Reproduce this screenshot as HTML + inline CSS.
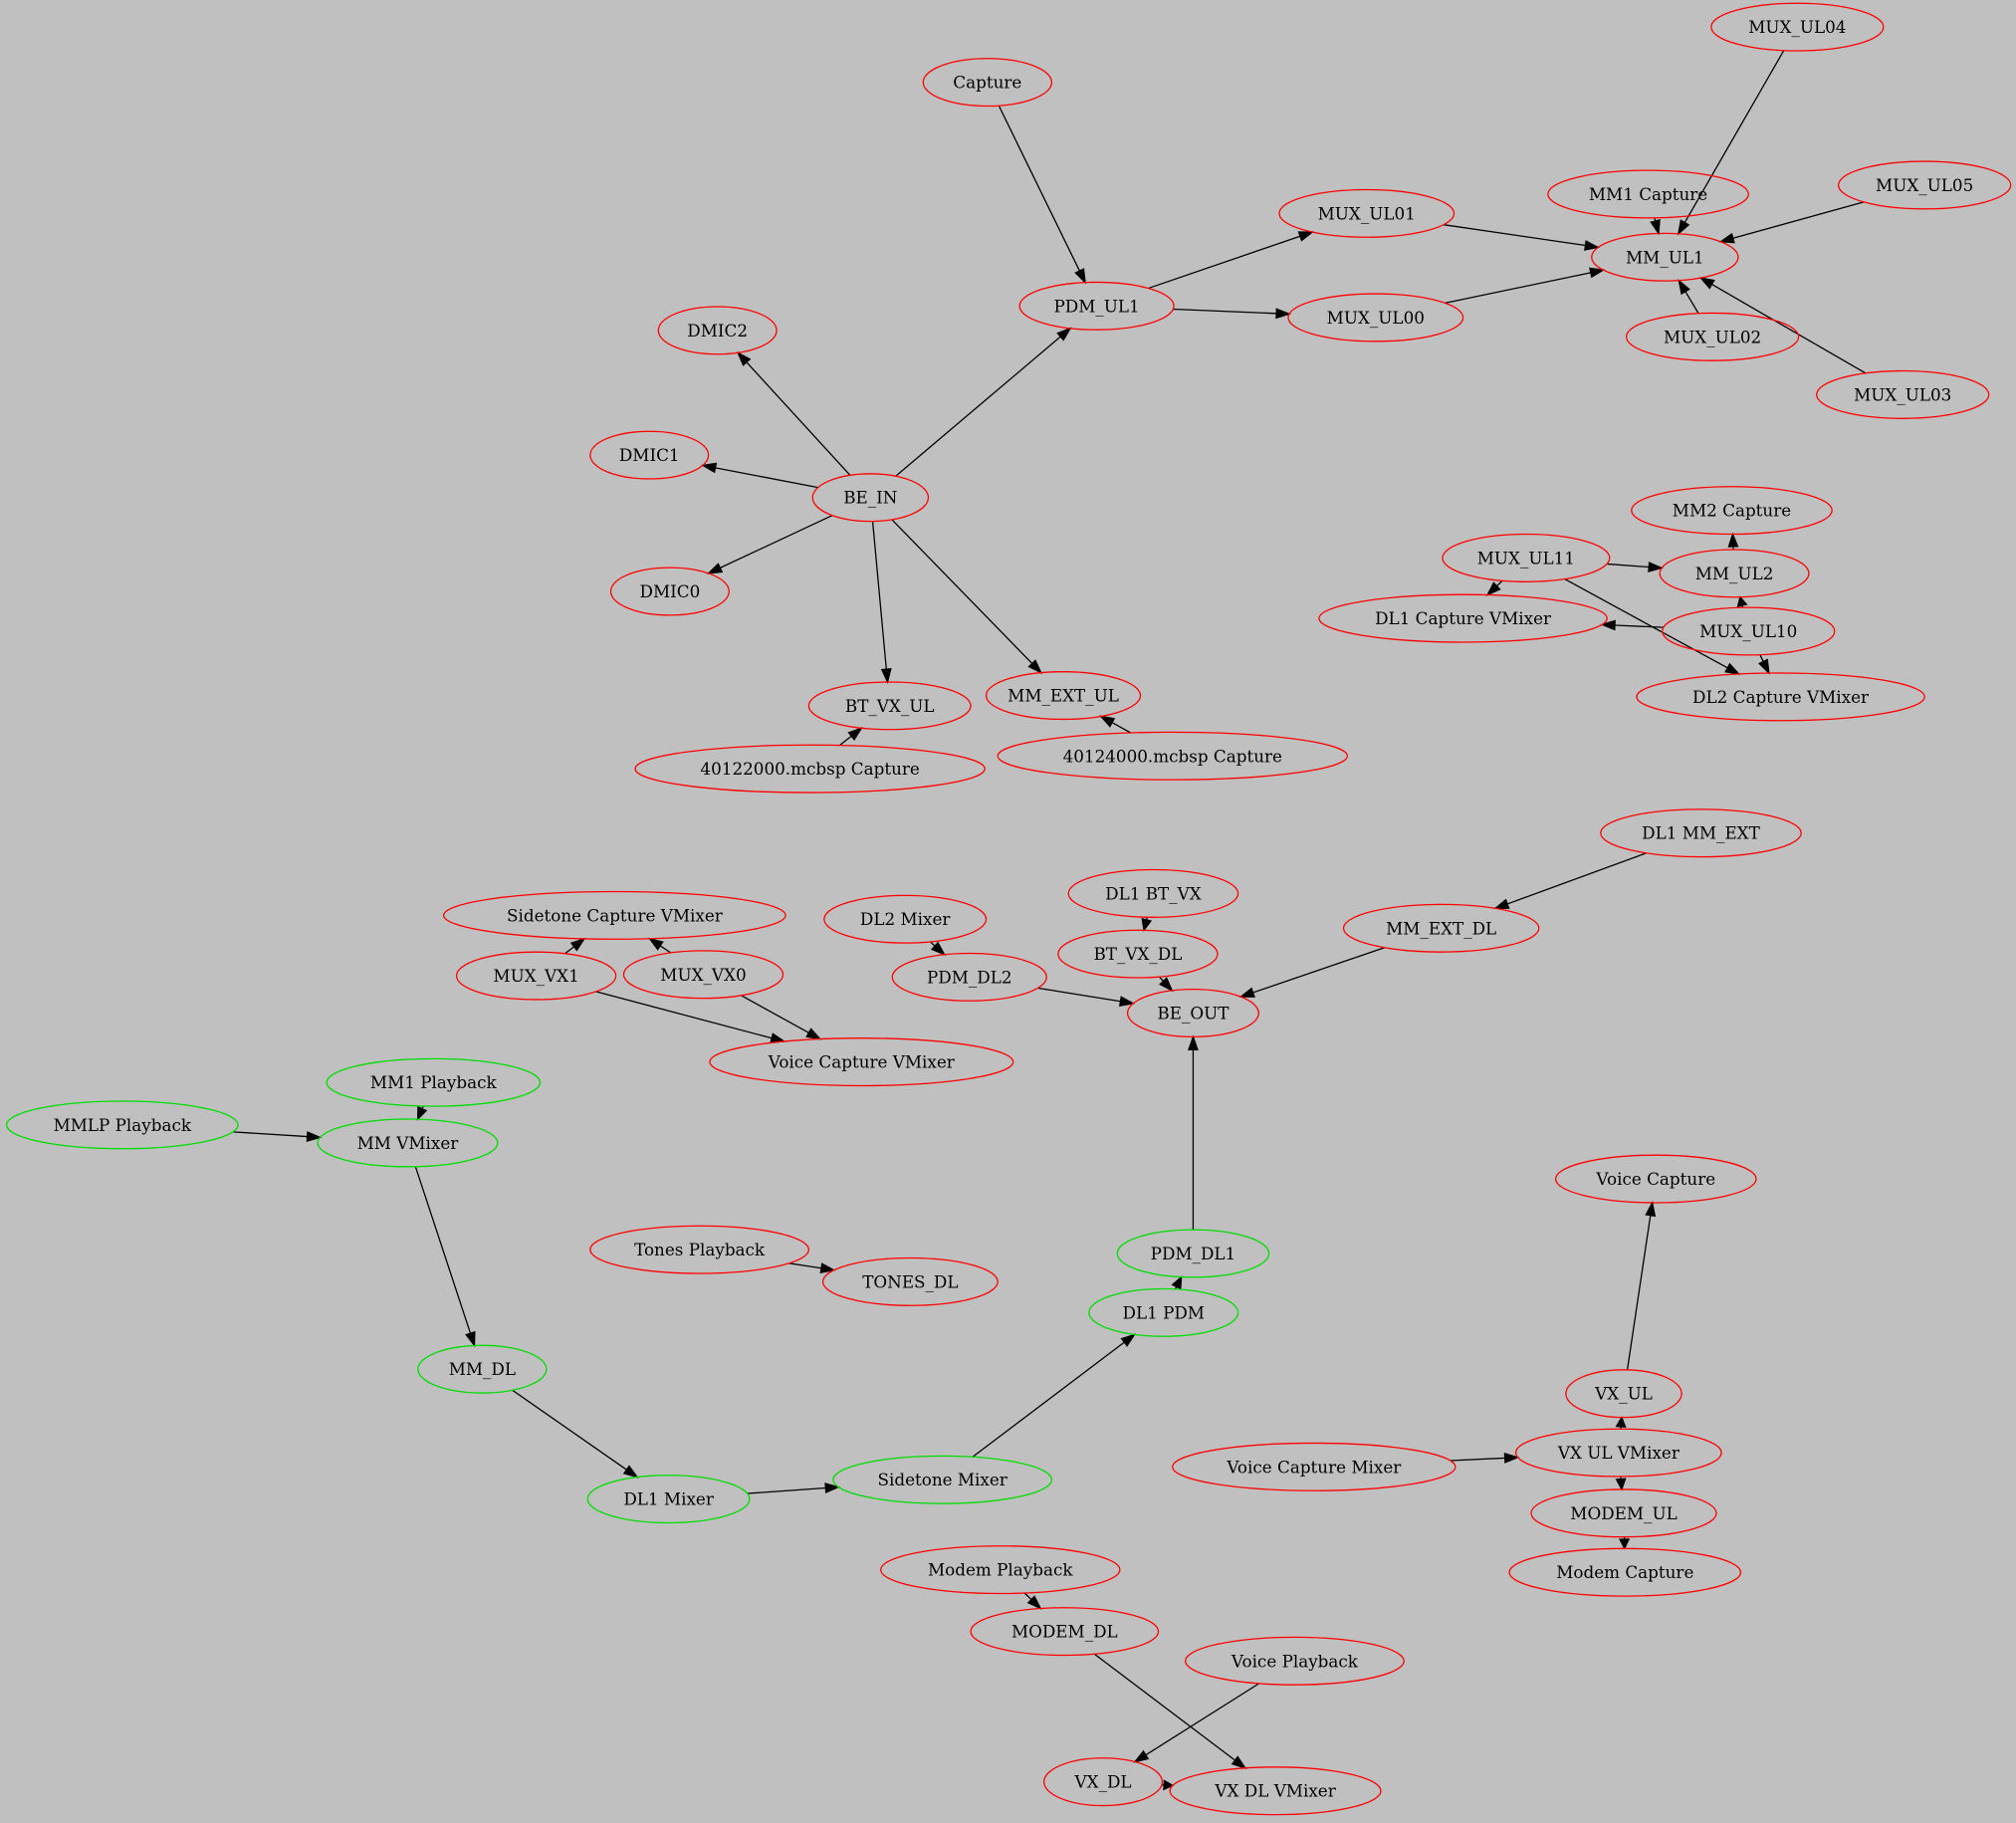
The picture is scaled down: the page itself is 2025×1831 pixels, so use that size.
<!DOCTYPE html>
<html><head><meta charset="utf-8"><style>
html,body{margin:0;padding:0;background:#c0c0c0;}
svg{display:block;}
text{font-family:"DejaVu Serif","Liberation Serif",serif;font-size:13px;text-anchor:middle;dominant-baseline:central;fill:#000;}
ellipse{fill:none;stroke-width:1;}
</style></head><body>
<svg id="g" width="2025" height="1831" viewBox="0 0 1568 1418" xmlns="http://www.w3.org/2000/svg">
<rect width="1568" height="1418" fill="#c0c0c0"/>
<g id="edges"></g>
<g id="nodes">
<ellipse data-n="Capture" cx="768" cy="64" rx="50" ry="18.5" stroke="red"/><text x="768" y="64">Capture</text>
<ellipse data-n="MUX_UL04" cx="1398" cy="21" rx="67" ry="18.5" stroke="red"/><text x="1398" y="21">MUX_UL04</text>
<ellipse data-n="MM1 Capture" cx="1282" cy="151" rx="78" ry="18.5" stroke="red"/><text x="1282" y="151">MM1 Capture</text>
<ellipse data-n="MUX_UL05" cx="1497" cy="144" rx="67" ry="18.5" stroke="red"/><text x="1497" y="144">MUX_UL05</text>
<ellipse data-n="MUX_UL01" cx="1063" cy="166" rx="68" ry="18.5" stroke="red"/><text x="1063" y="166">MUX_UL01</text>
<ellipse data-n="MM_UL1" cx="1295" cy="200" rx="57" ry="18.5" stroke="red"/><text x="1295" y="200">MM_UL1</text>
<ellipse data-n="PDM_UL1" cx="853" cy="238" rx="60" ry="18.5" stroke="red"/><text x="853" y="238">PDM_UL1</text>
<ellipse data-n="MUX_UL00" cx="1070" cy="247" rx="68" ry="18.5" stroke="red"/><text x="1070" y="247">MUX_UL00</text>
<ellipse data-n="MUX_UL02" cx="1332" cy="262" rx="67" ry="18.5" stroke="red"/><text x="1332" y="262">MUX_UL02</text>
<ellipse data-n="MUX_UL03" cx="1480" cy="307" rx="67" ry="18.5" stroke="red"/><text x="1480" y="307">MUX_UL03</text>
<ellipse data-n="DMIC2" cx="558" cy="257" rx="46" ry="18.5" stroke="red"/><text x="558" y="257">DMIC2</text>
<ellipse data-n="DMIC1" cx="505" cy="354" rx="46" ry="18.5" stroke="red"/><text x="505" y="354">DMIC1</text>
<ellipse data-n="BE_IN" cx="677" cy="387" rx="45" ry="18.5" stroke="red"/><text x="677" y="387">BE_IN</text>
<ellipse data-n="DMIC0" cx="521" cy="460" rx="46" ry="18.5" stroke="red"/><text x="521" y="460">DMIC0</text>
<ellipse data-n="MM2 Capture" cx="1347" cy="397" rx="78" ry="18.5" stroke="red"/><text x="1347" y="397">MM2 Capture</text>
<ellipse data-n="MUX_UL11" cx="1187" cy="434" rx="65" ry="18.5" stroke="red"/><text x="1187" y="434">MUX_UL11</text>
<ellipse data-n="MM_UL2" cx="1349" cy="446" rx="58" ry="18.5" stroke="red"/><text x="1349" y="446">MM_UL2</text>
<ellipse data-n="DL1 Capture VMixer" cx="1138" cy="481" rx="112" ry="18.5" stroke="red"/><text x="1138" y="481">DL1 Capture VMixer</text>
<ellipse data-n="MUX_UL10" cx="1360" cy="491" rx="67" ry="18.5" stroke="red"/><text x="1360" y="491">MUX_UL10</text>
<ellipse data-n="DL2 Capture VMixer" cx="1385" cy="542" rx="112" ry="18.5" stroke="red"/><text x="1385" y="542">DL2 Capture VMixer</text>
<ellipse data-n="BT_VX_UL" cx="692" cy="549" rx="63" ry="18.5" stroke="red"/><text x="692" y="549">BT_VX_UL</text>
<ellipse data-n="MM_EXT_UL" cx="827" cy="541" rx="60" ry="18.5" stroke="red"/><text x="827" y="541">MM_EXT_UL</text>
<ellipse data-n="40122000.mcbsp Capture" cx="630" cy="598" rx="136" ry="18.5" stroke="red"/><text x="630" y="598">40122000.mcbsp Capture</text>
<ellipse data-n="40124000.mcbsp Capture" cx="912" cy="588" rx="136" ry="18.5" stroke="red"/><text x="912" y="588">40124000.mcbsp Capture</text>
<ellipse data-n="DL1 MM_EXT" cx="1323" cy="648" rx="78" ry="18.5" stroke="red"/><text x="1323" y="648">DL1 MM_EXT</text>
<ellipse data-n="DL1 BT_VX" cx="897" cy="695" rx="66" ry="18.5" stroke="red"/><text x="897" y="695">DL1 BT_VX</text>
<ellipse data-n="MM_EXT_DL" cx="1121" cy="722" rx="76" ry="18.5" stroke="red"/><text x="1121" y="722">MM_EXT_DL</text>
<ellipse data-n="Sidetone Capture VMixer" cx="478" cy="712" rx="133" ry="18.5" stroke="red"/><text x="478" y="712">Sidetone Capture VMixer</text>
<ellipse data-n="DL2 Mixer" cx="704" cy="715" rx="63" ry="18.5" stroke="red"/><text x="704" y="715">DL2 Mixer</text>
<ellipse data-n="BT_VX_DL" cx="885" cy="742" rx="62" ry="18.5" stroke="red"/><text x="885" y="742">BT_VX_DL</text>
<ellipse data-n="MUX_VX1" cx="417" cy="759" rx="62" ry="18.5" stroke="red"/><text x="417" y="759">MUX_VX1</text>
<ellipse data-n="MUX_VX0" cx="547" cy="758" rx="62" ry="18.5" stroke="red"/><text x="547" y="758">MUX_VX0</text>
<ellipse data-n="PDM_DL2" cx="754" cy="760" rx="60" ry="18.5" stroke="red"/><text x="754" y="760">PDM_DL2</text>
<ellipse data-n="BE_OUT" cx="928" cy="788" rx="51" ry="18.5" stroke="red"/><text x="928" y="788">BE_OUT</text>
<ellipse data-n="Voice Capture VMixer" cx="670" cy="826" rx="118" ry="18.5" stroke="red"/><text x="670" y="826">Voice Capture VMixer</text>
<ellipse data-n="MM1 Playback" cx="337" cy="842" rx="83" ry="18.5" stroke="#00dd00"/><text x="337" y="842">MM1 Playback</text>
<ellipse data-n="MMLP Playback" cx="95" cy="875" rx="90" ry="18.5" stroke="#00dd00"/><text x="95" y="875">MMLP Playback</text>
<ellipse data-n="MM VMixer" cx="317" cy="889" rx="70" ry="18.5" stroke="#00dd00"/><text x="317" y="889">MM VMixer</text>
<ellipse data-n="Voice Capture" cx="1288" cy="917" rx="78" ry="18.5" stroke="red"/><text x="1288" y="917">Voice Capture</text>
<ellipse data-n="Tones Playback" cx="544" cy="972" rx="85" ry="18.5" stroke="red"/><text x="544" y="972">Tones Playback</text>
<ellipse data-n="TONES_DL" cx="708" cy="997" rx="68" ry="18.5" stroke="red"/><text x="708" y="997">TONES_DL</text>
<ellipse data-n="PDM_DL1" cx="928" cy="975" rx="59" ry="18.5" stroke="#00dd00"/><text x="928" y="975">PDM_DL1</text>
<ellipse data-n="DL1 PDM" cx="905" cy="1021" rx="58" ry="18.5" stroke="#00dd00"/><text x="905" y="1021">DL1 PDM</text>
<ellipse data-n="MM_DL" cx="375" cy="1065" rx="50" ry="18.5" stroke="#00dd00"/><text x="375" y="1065">MM_DL</text>
<ellipse data-n="VX_UL" cx="1263" cy="1084" rx="45" ry="18.5" stroke="red"/><text x="1263" y="1084">VX_UL</text>
<ellipse data-n="VX UL VMixer" cx="1259" cy="1130" rx="80" ry="18.5" stroke="red"/><text x="1259" y="1130">VX UL VMixer</text>
<ellipse data-n="Voice Capture Mixer" cx="1022" cy="1141" rx="110" ry="18.5" stroke="red"/><text x="1022" y="1141">Voice Capture Mixer</text>
<ellipse data-n="Sidetone Mixer" cx="733" cy="1151" rx="85" ry="18.5" stroke="#00dd00"/><text x="733" y="1151">Sidetone Mixer</text>
<ellipse data-n="DL1 Mixer" cx="520" cy="1166" rx="63" ry="18.5" stroke="#00dd00"/><text x="520" y="1166">DL1 Mixer</text>
<ellipse data-n="MODEM_UL" cx="1263" cy="1177" rx="72" ry="18.5" stroke="red"/><text x="1263" y="1177">MODEM_UL</text>
<ellipse data-n="Modem Capture" cx="1264" cy="1223" rx="90" ry="18.5" stroke="red"/><text x="1264" y="1223">Modem Capture</text>
<ellipse data-n="Modem Playback" cx="778" cy="1221" rx="93" ry="18.5" stroke="red"/><text x="778" y="1221">Modem Playback</text>
<ellipse data-n="MODEM_DL" cx="828" cy="1269" rx="73" ry="18.5" stroke="red"/><text x="828" y="1269">MODEM_DL</text>
<ellipse data-n="Voice Playback" cx="1007" cy="1292" rx="85" ry="18.5" stroke="red"/><text x="1007" y="1292">Voice Playback</text>
<ellipse data-n="VX_DL" cx="858" cy="1386" rx="46" ry="18.5" stroke="red"/><text x="858" y="1386">VX_DL</text>
<ellipse data-n="VX DL VMixer" cx="992" cy="1393" rx="82" ry="18.5" stroke="red"/><text x="992" y="1393">VX DL VMixer</text>
</g>
</svg>
<script>
(function(){
var E=[["Capture","PDM_UL1"],["MUX_UL04","MM_UL1"],["MM1 Capture","MM_UL1"],["MUX_UL05","MM_UL1"],["MUX_UL01","MM_UL1"],["MUX_UL00","MM_UL1"],["MUX_UL02","MM_UL1"],["MUX_UL03","MM_UL1"],["PDM_UL1","MUX_UL01"],["PDM_UL1","MUX_UL00"],["BE_IN","PDM_UL1"],["BE_IN","DMIC2"],["BE_IN","DMIC1"],["BE_IN","DMIC0"],["BE_IN","BT_VX_UL"],["BE_IN","MM_EXT_UL"],["40122000.mcbsp Capture","BT_VX_UL"],["40124000.mcbsp Capture","MM_EXT_UL"],["MM_UL2","MM2 Capture"],["MUX_UL11","MM_UL2"],["MUX_UL11","DL1 Capture VMixer"],["MUX_UL11","DL2 Capture VMixer"],["MUX_UL10","DL1 Capture VMixer"],["MUX_UL10","MM_UL2"],["MUX_UL10","DL2 Capture VMixer"],["DL1 MM_EXT","MM_EXT_DL"],["MM_EXT_DL","BE_OUT"],["DL1 BT_VX","BT_VX_DL"],["BT_VX_DL","BE_OUT"],["DL2 Mixer","PDM_DL2"],["PDM_DL2","BE_OUT"],["PDM_DL1","BE_OUT"],["MUX_VX1","Sidetone Capture VMixer"],["MUX_VX0","Sidetone Capture VMixer"],["MUX_VX1","Voice Capture VMixer"],["MUX_VX0","Voice Capture VMixer"],["MM1 Playback","MM VMixer"],["MMLP Playback","MM VMixer"],["MM VMixer","MM_DL"],["MM_DL","DL1 Mixer"],["DL1 Mixer","Sidetone Mixer"],["Sidetone Mixer","DL1 PDM"],["DL1 PDM","PDM_DL1"],["Tones Playback","TONES_DL"],["VX_UL","Voice Capture"],["VX UL VMixer","VX_UL"],["Voice Capture Mixer","VX UL VMixer"],["VX UL VMixer","MODEM_UL"],["MODEM_UL","Modem Capture"],["Modem Playback","MODEM_DL"],["MODEM_DL","VX DL VMixer"],["Voice Playback","VX_DL"],["VX_DL","VX DL VMixer"]];
var N={};document.querySelectorAll('ellipse[data-n]').forEach(function(e){N[e.getAttribute('data-n')]={x:+e.getAttribute('cx'),y:+e.getAttribute('cy'),rx:+e.getAttribute('rx'),ry:+e.getAttribute('ry')};});
function clip(n,dx,dy){var t=1/Math.sqrt((dx/n.rx)*(dx/n.rx)+(dy/n.ry)*(dy/n.ry));return [n.x+dx*t,n.y+dy*t];}
var s='';
E.forEach(function(e){var a=N[e[0]],b=N[e[1]];if(!a||!b)return;var dx=b.x-a.x,dy=b.y-a.y;
var p=clip(a,dx,dy),q=clip(b,-dx,-dy);var L=Math.hypot(q[0]-p[0],q[1]-p[1]);var ux=(q[0]-p[0])/L,uy=(q[1]-p[1])/L;
var al=Math.min(10,L*0.8);var bx=q[0]-ux*al,by=q[1]-uy*al;var w=3.5;
s+='<line x1="'+p[0]+'" y1="'+p[1]+'" x2="'+bx+'" y2="'+by+'" stroke="#000" stroke-width="1"/>';
s+='<polygon points="'+q[0]+','+q[1]+' '+(bx-uy*w)+','+(by+ux*w)+' '+(bx+uy*w)+','+(by-ux*w)+'" fill="#000" stroke="#000" stroke-width="1"/>';});
document.getElementById('edges').innerHTML=s;})();
</script>
</body></html>
